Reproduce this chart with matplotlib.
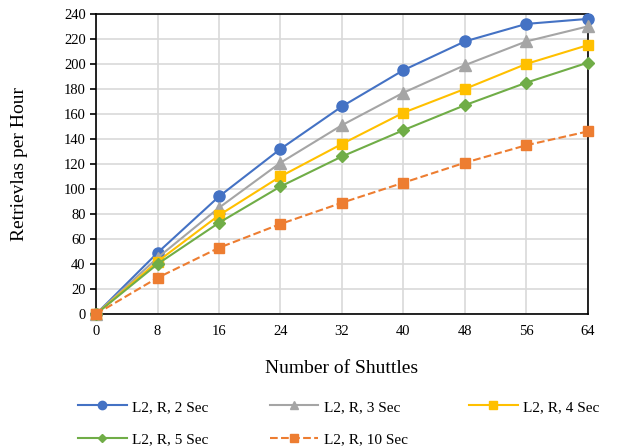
import matplotlib
matplotlib.use("Agg")
import matplotlib.pyplot as plt

plt.rcParams['font.family'] = ['Liberation Serif', 'DejaVu Serif']

shuttles = [0, 8, 16, 24, 32, 40, 48, 56, 64]
s2 = [0, 49, 94, 132, 166, 195, 218, 232, 236]
s3 = [0, 45, 85, 121, 151, 177, 199, 218, 230]
s4 = [0, 42, 79, 110, 136, 161, 180, 200, 215]
s5 = [0, 40, 73, 102, 126, 147, 167, 185, 201]
s10 = [0, 29, 53, 72, 89, 105, 121, 135, 146]
labels = ["L2, R, 2 Sec", "L2, R, 3 Sec", "L2, R, 4 Sec", "L2, R, 5 Sec", "L2, R, 10 Sec"]

fig = plt.figure(figsize=(6.28, 4.48), dpi=100)
ax = fig.add_axes([0.153, 0.299, 0.783, 0.670])

styles = [
    (s2, '#4472C4', 'o', '-', 8),
    (s3, '#A5A5A5', '^', '-', 8),
    (s4, '#FFC000', 's', '-', 7),
    (s5, '#70AD47', 'D', '-', 6),
    (s10, '#ED7D31', 's', '--', 7),
]
handles = []
for (data, c, m, ls, ms), lab in zip(styles, labels):
    h, = ax.plot(shuttles, data, color=c, marker=m, linestyle=ls, markersize=ms,
                 linewidth=1.5, label=lab, clip_on=False, zorder=3)
    handles.append(h)

ax.set_xlim(0, 64)
ax.set_ylim(0, 240)
ax.set_xticks(shuttles)
ax.set_yticks(range(0, 241, 20))
ax.grid(True, color='#D9D9D9', linewidth=1.2)
ax.set_axisbelow(True)
for sp in ax.spines.values():
    sp.set_color('black')
    sp.set_linewidth(1.2)
ax.tick_params(axis='both', labelsize=10.5, colors='black')
ax.tick_params(axis='x', length=0, pad=8)
ax.tick_params(axis='y', length=4, width=1.2)

ax.set_xlabel("Number of Shuttles", fontsize=14, labelpad=16)
ax.set_ylabel("Retrievlas per Hour", fontsize=14, labelpad=26)

order = [0, 3, 1, 4, 2]
fig.legend(handles=[handles[i] for i in order], labels=[labels[i] for i in order],
           loc='upper left', bbox_to_anchor=(0.124, 0.107), borderaxespad=0, borderpad=0,
           ncol=3, frameon=False, fontsize=11, handlelength=3.2, handletextpad=0.35,
           columnspacing=4.0, labelspacing=1.25, markerscale=0.75)

fig.savefig("out.png", dpi=100)
